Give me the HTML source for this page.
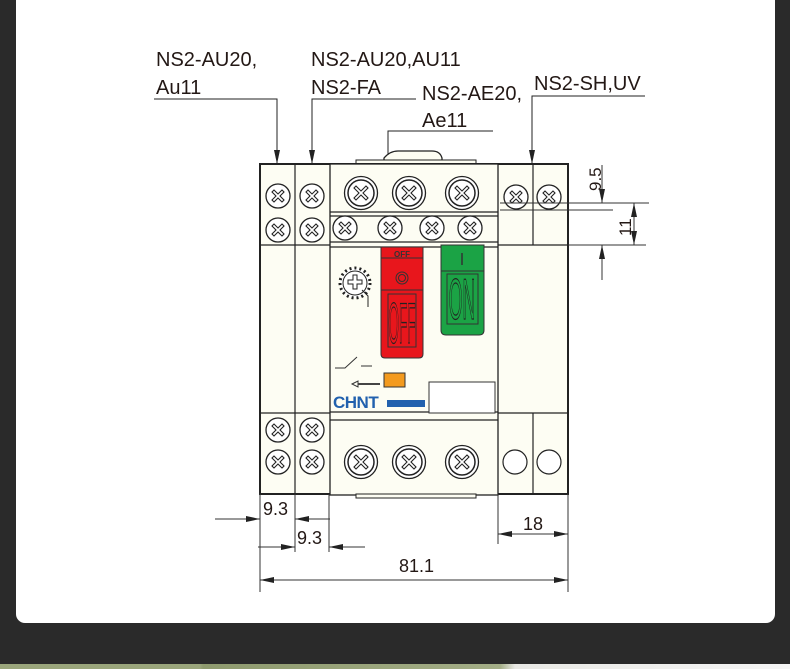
<!DOCTYPE html>
<html><head><meta charset="utf-8"><style>
body{margin:0;width:790px;height:669px;background:#2a2a2a;overflow:hidden;position:relative;font-family:"Liberation Sans","DejaVu Sans",sans-serif}
.card{position:absolute;left:16px;top:0;width:759px;height:623px;background:#fff;border-radius:0 0 9px 9px}
.strip{position:absolute;left:0;top:664px;width:790px;height:5px;background:linear-gradient(90deg,#9aa57b 0,#9aa57b 200px,#8e9a6e 203px,#a3ad86 500px,#e8e8e4 515px,#f5f5f5 100%)}
svg{position:absolute;left:0;top:0}
</style></head><body>
<div class="card"></div><div class="strip"></div>
<svg width="790" height="669" viewBox="0 0 790 669">
<defs>
<marker id="a" markerWidth="14" markerHeight="6" refX="14" refY="3" orient="auto" markerUnits="userSpaceOnUse"><path d="M0,0 L14,3 L0,6z" fill="#222"/></marker>
<g id="s"><circle r="12" fill="#fff" stroke="#222" stroke-width="1.3"/><path d="M-6,-4 L-4,-6 L0,-2 L4,-6 L6,-4 L2,0 L6,4 L4,6 L0,2 L-4,6 L-6,4 L-2,0z" fill="none" stroke="#222" stroke-width="1.1"/></g>
<g id="b"><circle r="16.5" fill="#fff" stroke="#222" stroke-width="1.3"/><circle r="13" fill="none" stroke="#222" stroke-width="1.5"/><path d="M-7,-5 L-5,-7 L0,-2 L5,-7 L7,-5 L2,0 L7,5 L5,7 L0,2 L-5,7 L-7,5 L-2,0z" fill="none" stroke="#222" stroke-width="1.1"/></g>
</defs>
<g font-size="20" fill="#231815">
<text x="156" y="66">NS2-AU20,</text><text x="156" y="94">Au11</text>
<text x="311" y="66">NS2-AU20,AU11</text><text x="311" y="94">NS2-FA</text>
<text x="422" y="100">NS2-AE20,</text><text x="422" y="127">Ae11</text>
<text x="534" y="90">NS2-SH,UV</text>
</g>
<g stroke="#222" stroke-width="1" fill="none">
<path d="M154,99 H277 V164" marker-end="url(#a)"/>
<path d="M416,99 H312 V164" marker-end="url(#a)"/>
<path d="M493,131 H388 V208" marker-end="url(#a)"/>
<path d="M645,96 H532 V164" marker-end="url(#a)"/>
</g>
<path d="M384,164 V158 Q390,151 398,151 H432 Q440,151 442,158 V164" fill="#fdfdf3" stroke="#222" stroke-width="1.3"/>
<rect x="356" y="160" width="120" height="5" fill="#fdfdf3" stroke="#222" stroke-width="1"/>
<rect x="260" y="164" width="308" height="330" fill="#fdfdf3" stroke="#222" stroke-width="2"/>
<rect x="330" y="164" width="168" height="331" fill="#fdfdf3" stroke="#222" stroke-width="1.3"/>
<g stroke="#222" stroke-width="1.2">
<line x1="295" y1="164" x2="295" y2="494"/>
<line x1="533" y1="164" x2="533" y2="245"/><line x1="533" y1="413" x2="533" y2="494"/>
<line x1="260" y1="245" x2="330" y2="245"/><line x1="260" y1="413" x2="330" y2="413"/>
<line x1="498" y1="245" x2="568" y2="245"/><line x1="498" y1="413" x2="568" y2="413"/>
<line x1="330" y1="212" x2="498" y2="212"/><line x1="330" y1="216" x2="498" y2="216"/>
<line x1="330" y1="242" x2="498" y2="242"/><line x1="330" y1="247" x2="498" y2="247"/>
<line x1="330" y1="412" x2="498" y2="412"/><line x1="330" y1="420" x2="498" y2="420"/>
</g>
<rect x="356" y="494" width="120" height="4" fill="#fdfdf3" stroke="#222"/>
<use href="#s" x="278" y="196"/><use href="#s" x="278" y="230"/><use href="#s" x="312" y="196"/><use href="#s" x="312" y="230"/>
<use href="#s" x="278" y="430"/><use href="#s" x="278" y="462"/><use href="#s" x="312" y="430"/><use href="#s" x="312" y="462"/>
<use href="#s" x="516" y="197"/><use href="#s" x="549" y="197"/>
<use href="#s" x="345" y="228"/><use href="#s" x="390" y="228"/><use href="#s" x="432" y="228"/><use href="#s" x="470" y="228"/>
<use href="#b" x="361" y="193"/><use href="#b" x="409" y="193"/><use href="#b" x="462" y="193"/>
<use href="#b" x="361" y="462"/><use href="#b" x="409" y="462"/><use href="#b" x="462" y="462"/>
<circle cx="515" cy="462" r="12" fill="#fff" stroke="#222" stroke-width="1.2"/><circle cx="549" cy="462" r="12" fill="#fff" stroke="#222" stroke-width="1.2"/>
<!-- OFF button -->
<path d="M381,247 H423 V354 Q423,358 419,358 H385 Q381,358 381,354z" fill="#e8161c" stroke="#333"/>
<line x1="381" y1="258" x2="423" y2="258" stroke="#333"/><line x1="381" y1="290" x2="423" y2="290" stroke="#333"/>
<text x="402" y="257" font-size="8" font-weight="bold" fill="#333" text-anchor="middle">OFF</text>
<circle cx="402" cy="278" r="6" fill="none" stroke="#333"/><circle cx="402" cy="278" r="3.5" fill="none" stroke="#333"/>
<rect x="388" y="294" width="28" height="53" fill="none" stroke="#333"/>
<text x="0" y="0" font-size="22" text-anchor="middle" fill="none" stroke="#222" stroke-width="0.5" transform="translate(402,343) scale(0.62,2.6)">OFF</text>
<!-- ON button -->
<path d="M441,245 H484 V330 Q484,335 479,335 H446 Q441,335 441,330z" fill="#1ba345" stroke="#333"/>
<line x1="441" y1="271" x2="484" y2="271" stroke="#333"/>
<line x1="462" y1="253" x2="462" y2="265" stroke="#333" stroke-width="1.5"/>
<rect x="447" y="274" width="31" height="50" fill="none" stroke="#333"/>
<text x="0" y="0" font-size="22" text-anchor="middle" fill="none" stroke="#222" stroke-width="0.5" transform="translate(462,319) scale(0.8,2.6)">ON</text>
<!-- dial -->
<circle cx="355" cy="283" r="15" fill="#fff" stroke="#222" stroke-width="3" stroke-dasharray="2 3"/>
<circle cx="355" cy="283" r="12" fill="#fff" stroke="#222"/>
<path d="M348,280 H353 V275 H357 V280 H362 V284 H357 V289 H353 V284 H348z" fill="none" stroke="#222"/>
<path d="M362,290 L368,296 V307" stroke="#222" fill="none"/>
<path d="M335,368 H345 L357,357 M361,366 H372" stroke="#333" fill="none"/>
<path d="M352,384 L358,381 V387z" fill="none" stroke="#333"/><line x1="358" y1="384" x2="380" y2="384" stroke="#444" stroke-width="2"/>
<rect x="384" y="373" width="21" height="14" fill="#f39a1e" stroke="#333"/>
<text x="333" y="408" font-size="17" font-weight="bold" fill="#2261ae" letter-spacing="-0.5">CHNT</text>
<rect x="387" y="400" width="38" height="7" fill="#2261ae"/>
<rect x="429" y="382" width="66" height="31" fill="#fff" stroke="#333"/>
<g stroke="#333" stroke-width="1" fill="none">
<line x1="500" y1="203" x2="649" y2="203"/><line x1="500" y1="210" x2="613" y2="210"/><line x1="568" y1="245" x2="646" y2="245"/>
<line x1="602" y1="165" x2="602" y2="203" marker-end="url(#a)"/>
<line x1="602" y1="280" x2="602" y2="245" marker-end="url(#a)"/>
<line x1="634" y1="224" x2="634" y2="203" marker-end="url(#a)"/>
<line x1="634" y1="224" x2="634" y2="245" marker-end="url(#a)"/>
</g>
<text font-size="17" fill="#231815" transform="translate(601,191) rotate(-90)">9.5</text>
<text font-size="17" fill="#231815" transform="translate(631,236) rotate(-90)">11</text>
<g stroke="#333" stroke-width="1" fill="none">
<line x1="260" y1="494" x2="260" y2="592"/><line x1="295" y1="494" x2="295" y2="552"/><line x1="329" y1="494" x2="329" y2="552"/>
<line x1="498" y1="494" x2="498" y2="544"/><line x1="568" y1="494" x2="568" y2="592"/>
<line x1="215" y1="519" x2="260" y2="519" marker-end="url(#a)"/>
<line x1="330" y1="519" x2="295" y2="519" marker-end="url(#a)"/>
<line x1="258" y1="547" x2="295" y2="547" marker-end="url(#a)"/>
<line x1="365" y1="547" x2="329" y2="547" marker-end="url(#a)"/>
<line x1="533" y1="534" x2="498" y2="534" marker-end="url(#a)"/>
<line x1="533" y1="534" x2="568" y2="534" marker-end="url(#a)"/>
<line x1="414" y1="580" x2="260" y2="580" marker-end="url(#a)"/>
<line x1="414" y1="580" x2="568" y2="580" marker-end="url(#a)"/>
</g>
<g font-size="18" fill="#231815">
<text x="263" y="515">9.3</text><text x="297" y="544">9.3</text>
<text x="523" y="530">18</text><text x="399" y="572">81.1</text>
</g>
</svg>
</body></html>
